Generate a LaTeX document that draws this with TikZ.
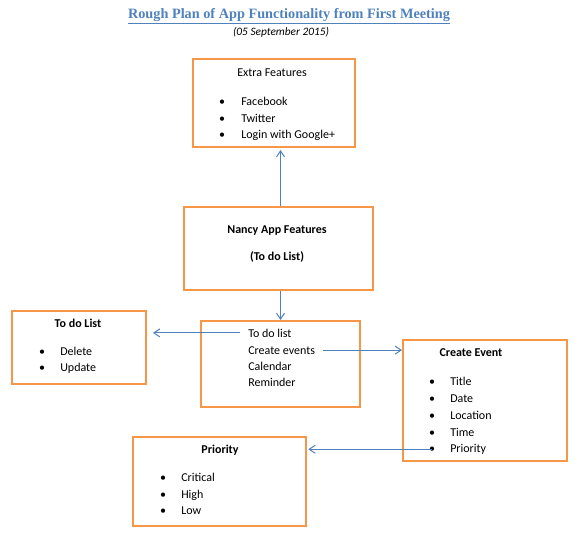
\documentclass[tikz,border=0pt]{standalone}
\usepackage{fontspec}
\setmainfont{Carlito}
\newfontfamily\titlefont{Liberation Serif}
\usetikzlibrary{arrows.meta}

\definecolor{boxorange}{HTML}{F79646}
\definecolor{linkblue}{HTML}{4F81BD}

\tikzset{
  box/.style={draw=boxorange, line width=1.5pt, inner sep=0pt},
  head/.style={font=\fontsize{9}{11}\selectfont\bfseries, anchor=base, inner sep=0pt},
  plainhead/.style={font=\fontsize{9}{11}\selectfont, anchor=base, inner sep=0pt},
  itm/.style={font=\fontsize{9}{11}\selectfont, anchor=base west, inner sep=0pt},
  blt/.style={font=\fontsize{9}{11}\selectfont, anchor=base, inner sep=0pt},
  link/.style={draw=linkblue, line width=0.75pt, -{Straight Barb[length=4.5pt,width=6pt]}}
}

\begin{document}
\begin{tikzpicture}[x=0.75pt, y=-0.75pt]
			\useasboundingbox (0,0) rectangle (580,532);
			
			% Title
			\node[anchor=base, inner sep=0pt, text=linkblue, font=\titlefont\fontsize{10.7}{12}\selectfont\bfseries] (title) at (289,18) {\underline{Rough Plan of App Functionality from First Meeting}};
			\node[anchor=base, inner sep=0pt, font=\fontsize{8.5}{10}\selectfont\itshape] (date) at (281,35) {(05 September 2015)};
			
			% Boxes
			\node[box, minimum width=121.5pt, minimum height=66pt] (extra) at (274,103) {};
			\node[box, minimum width=141.75pt, minimum height=62.25pt] (nancy) at (278.5,248.5) {};
			\node[box, minimum width=100.5pt, minimum height=54.75pt] (todo) at (79,347.5) {};
			\node[box, minimum width=119.25pt, minimum height=64.5pt] (menu) at (280.5,364) {};
			\node[box, minimum width=123pt, minimum height=90.75pt] (event) at (485,400.5) {};
			\node[box, minimum width=129.75pt, minimum height=66.75pt] (prio) at (219.5,481.5) {};
			
			% Extra features
			\node[plainhead] (extrahd) at (272,76) {Extra Features};
			\node[blt] (xb1) at (222,105) {\textbullet};
			\node[blt] (xb2) at (222,122) {\textbullet};
			\node[blt] (xb3) at (222,138) {\textbullet};
			\node[itm] (x1) at (241,105) {Facebook};
			\node[itm] (x2) at (241,122) {Twitter};
			\node[itm] (x3) at (241,138) {Login with Google+};
			
			% Main box
			\node[head] (nancyhd) at (277,233) {Nancy App Features};
			\node[head] (nancysub) at (277,260) {(To do List)};
			
			% To do list
			\node[head] (todohd) at (78,327) {To do List};
			\node[blt] (tb1) at (42,355) {\textbullet};
			\node[blt] (tb2) at (42,371) {\textbullet};
			\node[itm] (t1) at (60,355) {Delete};
			\node[itm] (t2) at (60,371) {Update};
			
			% Menu
			\node[itm] (m1) at (248,337) {To do list};
			\node[itm] (m2) at (248,354) {Create events};
			\node[itm] (m3) at (248,370) {Calendar};
			\node[itm] (m4) at (248,386) {Reminder};
			
			% Create event
			\node[head] (eventhd) at (471,356) {Create Event};
			\node[blt] (eb1) at (432,385) {\textbullet};
			\node[blt] (eb2) at (432,402) {\textbullet};
			\node[blt] (eb3) at (432,419) {\textbullet};
			\node[blt] (eb4) at (432,436) {\textbullet};
			\node[blt] (eb5) at (432,452) {\textbullet};
			\node[itm] (e1) at (450,385) {Title};
			\node[itm] (e2) at (450,402) {Date};
			\node[itm] (e3) at (450,419) {Location};
			\node[itm] (e4) at (450,436) {Time};
			\node[itm] (e5) at (450,452) {Priority};
			
			% Priority
			\node[head] (priohd) at (220,453) {Priority};
			\node[blt] (pb1) at (163,481) {\textbullet};
			\node[blt] (pb2) at (163,498) {\textbullet};
			\node[blt] (pb3) at (163,514) {\textbullet};
			\node[itm] (p1) at (181,481) {Critical};
			\node[itm] (p2) at (181,498) {High};
			\node[itm] (p3) at (181,514) {Low};
			
			% Links
			\draw[link] (nancy.north -| menu.north) -- ([yshift=-1.5pt]extra.south -| menu.north);
			\draw[link] (nancy.south -| menu.north) -- (menu.north);
			\draw[link] ([xshift=-6pt]m1.west) -- ([xshift=4.5pt]m1.west -| todo.east);
			\draw[link] ([xshift=6pt]m2.east) -- (m2.east -| event.west);
			\draw[link] (eb5.center) -- ([xshift=1pt]eb5.center -| prio.east);
		\end{tikzpicture}
\end{document}
